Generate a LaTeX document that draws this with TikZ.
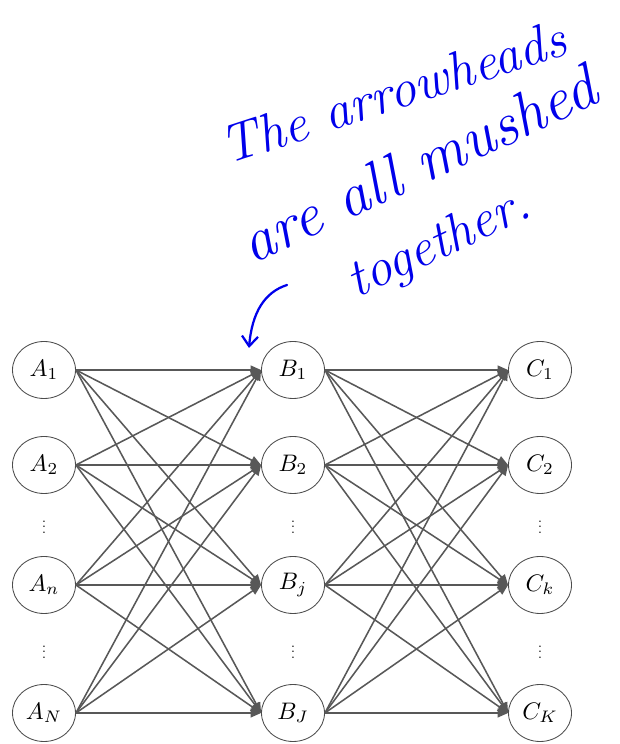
\documentclass[tikz,border=0pt]{standalone}
\usepackage{graphicx}
\usepackage{amsmath}
\usetikzlibrary{arrows.meta,shapes.geometric}
\definecolor{edgegray}{RGB}{88,88,88}
\definecolor{inkblue}{RGB}{0,0,235}
\newcommand{\lbl}[1]{\scalebox{1.7}{$#1$}}
\tikzset{
  unit/.style={draw=black!70, line width=0.6pt, ellipse, minimum width=1.575cm, minimum height=1.425cm, inner sep=0pt},
  link/.style={draw=edgegray, line width=1.1pt, -{Triangle[length=2.6mm,width=2.2mm]}},
  hand/.style={inkblue, font=\fontsize{38}{44}\selectfont\itshape}
}
\begin{document}
\begin{tikzpicture}[scale=1.0]
  \useasboundingbox (0,0) rectangle (15.475,18.6);
  % first layer
  \node[unit] (A1) at (1.1,9.35) {\lbl{A_1}};
  \node[unit] (A2) at (1.1,6.975) {\lbl{A_2}};
  \node (Adots1) at (1.1,5.525) {$\vdots$};
  \node[unit] (An) at (1.1,3.975) {\lbl{A_n}};
  \node (Adots2) at (1.1,2.4) {$\vdots$};
  \node[unit] (AN) at (1.1,0.775) {\lbl{A_N}};
  % second layer
  \node[unit] (B1) at (7.325,9.35) {\lbl{B_1}};
  \node[unit] (B2) at (7.325,6.975) {\lbl{B_2}};
  \node (Bdots1) at (7.325,5.525) {$\vdots$};
  \node[unit] (Bj) at (7.325,3.975) {\lbl{B_j}};
  \node (Bdots2) at (7.325,2.4) {$\vdots$};
  \node[unit] (BJ) at (7.325,0.775) {\lbl{B_J}};
  % third layer
  \node[unit] (C1) at (13.5,9.35) {\lbl{C_1}};
  \node[unit] (C2) at (13.5,6.975) {\lbl{C_2}};
  \node (Cdots1) at (13.5,5.525) {$\vdots$};
  \node[unit] (Ck) at (13.5,3.975) {\lbl{C_k}};
  \node (Cdots2) at (13.5,2.4) {$\vdots$};
  \node[unit] (CK) at (13.5,0.775) {\lbl{C_K}};
  % all connections
  \foreach \a in {A1,A2,An,AN}
    \foreach \b in {B1,B2,Bj,BJ}
      \draw[link] (\a.east) -- (\b.west);
  \foreach \b in {B1,B2,Bj,BJ}
    \foreach \c in {C1,C2,Ck,CK}
      \draw[link] (\b.east) -- (\c.west);
  % handwritten note
  \node[hand, rotate=18] (note1) at (9.825,16.3) {The arrowheads};
  \node[hand, rotate=25, font=\fontsize{44}{50}\selectfont\itshape] (note2) at (10.45,14.5) {are all mushed};
  \node[hand, rotate=25] (note3) at (11.0,12.475) {together.};
  \coordinate (tail) at (7.175,11.475);
  \coordinate (tip) at (6.225,9.9);
  \draw[inkblue, line width=1.6pt, line cap=round, -{Straight Barb[length=2.5mm,width=4mm]}]
    (tail) .. controls (6.625,11.3) and (6.3,10.8) .. (tip);
\end{tikzpicture}
\end{document}
